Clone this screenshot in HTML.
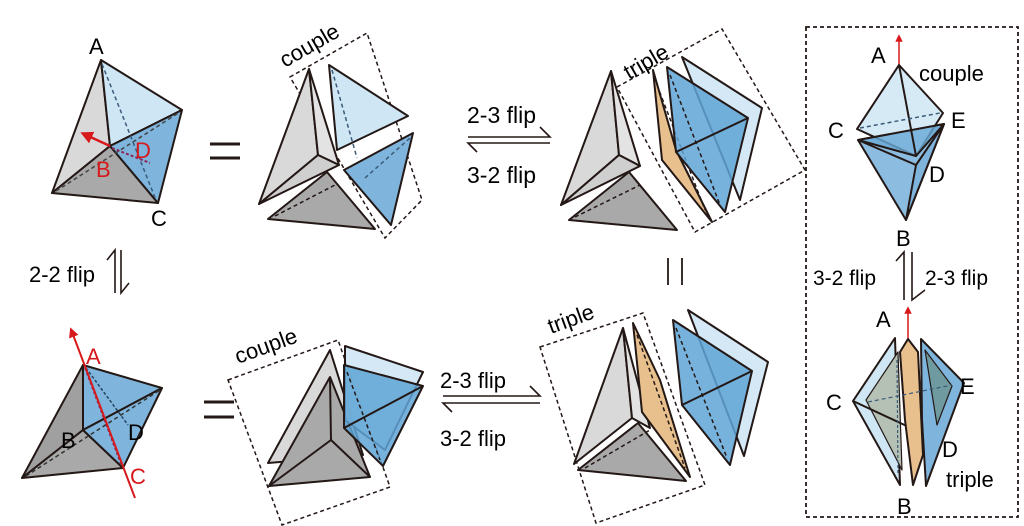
<!DOCTYPE html>
<html><head><meta charset="utf-8"><style>
html,body{margin:0;padding:0;background:#fff;}
svg{display:block;}
text{font-family:"Liberation Sans",sans-serif;}
</style></head><body>
<svg width="1024" height="526" viewBox="0 0 1024 526" xmlns="http://www.w3.org/2000/svg">
<defs>
<marker id="ar" viewBox="0 0 10 10" refX="5" refY="5" markerWidth="5" markerHeight="5" orient="auto-start-reverse"><path d="M0,0 L10,5 L0,10 z" fill="#d7191c"/></marker>
</defs>
<g stroke="#231815" stroke-width="2" stroke-linejoin="round">
<polygon points="101,60 52,193 110,146" fill="#d9d9d9"/>
<polygon points="52,193 110,146 158,203" fill="#a9a9a9"/>
<polygon points="101,60 182,110 110,146" fill="#cfe6f5"/>
<polygon points="110,146 182,110 158,203" fill="#7fb5dc"/>
<line x1="102" y1="64" x2="156" y2="200" stroke-dasharray="4,3" stroke-width="1.5" stroke="#3a5a78"/>
<line x1="56" y1="191" x2="180" y2="112" stroke-dasharray="4,3" stroke-width="1.5" stroke="#444"/>
<line x1="112" y1="148" x2="150" y2="163" stroke-dasharray="3,2" stroke-width="2" stroke="#8b2a5a"/>
</g>
<line x1="110" y1="146" x2="86" y2="135" stroke="#d7191c" stroke-width="2.5" marker-end="url(#ar)"/>
<text x="89" y="54" font-size="22">A</text>
<text x="151" y="226" font-size="22">C</text>
<text x="96" y="177" font-size="22" fill="#d7191c">B</text>
<text x="135" y="158" font-size="22" fill="#d7191c">D</text>
<line x1="210" y1="144" x2="240" y2="144" stroke="#231815" stroke-width="3"/>
<line x1="210" y1="158" x2="240" y2="158" stroke="#231815" stroke-width="3"/>

<polygon points="290,77 367,33 422,200 385,238" fill="none" stroke="#231815" stroke-width="1.5" stroke-dasharray="4,3"/>
<text x="0" y="0" font-size="22" transform="translate(285,68) rotate(-30)">couple</text>
<g stroke="#231815" stroke-width="2" stroke-linejoin="round">
<polygon points="309,69 259,204 318,155" fill="#d9d9d9"/>
<polygon points="309,69 318,155 339,165" fill="#e3e3e3"/>
<polygon points="259,204 318,155 339,165" fill="#cfcfcf"/>
<polygon points="327,172 268,219 375,229" fill="#a9a9a9"/>
<line x1="275" y1="216" x2="335" y2="185" stroke-dasharray="4,3" stroke-width="1.5"/>
<polygon points="329,65 408,116 337,150" fill="#cfe6f5"/>
<line x1="332" y1="70" x2="357" y2="158" stroke-dasharray="4,3" stroke-width="1.5" stroke="#3a5a78"/>
<polygon points="344,170 413,133 391,225" fill="#7fb5dc"/>
<line x1="365" y1="178" x2="410" y2="138" stroke-dasharray="4,3" stroke-width="1.5" stroke="#3a5a78"/>
</g>

<text x="467" y="123" font-size="23">2-3 flip</text>
<text x="467" y="183" font-size="23">3-2 flip</text>
<g stroke="#231815" stroke-width="1.6" fill="none">
<path d="M468,137 H550 L540,127"/>
<path d="M550,143 H468 L477,152"/>
</g>

<polygon points="617,87 722,29 805,170 695,232" fill="none" stroke="#231815" stroke-width="1.5" stroke-dasharray="4,3"/>
<text x="0" y="0" font-size="22" transform="translate(629,80) rotate(-30)">triple</text>
<g stroke="#231815" stroke-width="2" stroke-linejoin="round">
<polygon points="611,71 561,205 619,155" fill="#d9d9d9"/>
<polygon points="611,71 619,155 640,166" fill="#e3e3e3"/>
<polygon points="561,205 619,155 640,166" fill="#cfcfcf"/>
<polygon points="629,172 569,220 677,230" fill="#a9a9a9"/>
<line x1="575" y1="217" x2="640" y2="185" stroke-dasharray="4,3" stroke-width="1.5"/>
<polygon points="653,70 662,160 712,222 676,150" fill="#e8c08e"/>
<line x1="657" y1="85" x2="705" y2="210" stroke-dasharray="4,3" stroke-width="1.5"/>
<polygon points="682,57 762,108 740,200" fill="#cfe6f5" fill-opacity="0.9"/>
<polygon points="667,67 748,118 725,212 676,152" fill="#5fa4d6" fill-opacity="0.85"/>
<line x1="676" y1="152" x2="748" y2="118"/>
<line x1="670" y1="75" x2="720" y2="205" stroke-dasharray="4,3" stroke-width="1.5"/>
</g>

<line x1="668" y1="258" x2="668" y2="285" stroke="#231815" stroke-width="1.8"/>
<line x1="682" y1="258" x2="682" y2="285" stroke="#231815" stroke-width="1.8"/>

<text x="29" y="282" font-size="22">2-2 flip</text>
<g stroke="#231815" stroke-width="1.6" fill="none">
<path d="M107,260 L115,250 V293"/>
<path d="M121,250 V293 L129,283"/>
</g>

<g stroke="#231815" stroke-width="2" stroke-linejoin="round">
<polygon points="83,365 22,478 83,430" fill="#a0a0a0"/>
<polygon points="22,478 83,430 123,468" fill="#a9a9a9"/>
<polygon points="83,365 162,388 83,430" fill="#7fb5dc"/>
<polygon points="83,430 162,388 123,468" fill="#7fb5dc"/>
<line x1="85" y1="368" x2="121" y2="464" stroke-dasharray="3,2" stroke="#8b2a5a" stroke-width="1.8"/>
<line x1="86" y1="368" x2="128" y2="425" stroke-dasharray="3,2" stroke="#23435f" stroke-width="1.5"/>
<line x1="26" y1="476" x2="160" y2="390" stroke-dasharray="4,3" stroke-width="1.5" stroke="#333"/>
</g>
<line x1="135" y1="498" x2="72" y2="332" stroke="#d7191c" stroke-width="2" marker-end="url(#ar)"/>
<text x="86" y="364" font-size="22" fill="#d7191c">A</text>
<text x="130" y="484" font-size="22" fill="#d7191c">C</text>
<text x="61" y="448" font-size="22">B</text>
<text x="128" y="440" font-size="22">D</text>
<line x1="204" y1="402" x2="234" y2="402" stroke="#231815" stroke-width="3"/>
<line x1="204" y1="417" x2="234" y2="417" stroke="#231815" stroke-width="3"/>

<polygon points="228,380 338,340 390,487 282,525" fill="none" stroke="#231815" stroke-width="1.5" stroke-dasharray="4,3"/>
<text x="0" y="0" font-size="22" transform="translate(238,364) rotate(-20)">couple</text>
<g stroke="#231815" stroke-width="2" stroke-linejoin="round">
<polygon points="330,350 268,463 363,455" fill="#d9d9d9"/>
<polygon points="330,377 269,486 370,477" fill="#a9a9a9"/>
<line x1="330" y1="377" x2="331" y2="440"/>
<line x1="269" y1="486" x2="331" y2="440"/>
<line x1="370" y1="477" x2="331" y2="440"/>
<polygon points="345,346 423,372 385,450 345,420" fill="#cfe6f5" fill-opacity="0.9"/>
<polygon points="344,365 423,386 383,466 344,428" fill="#5fa4d6" fill-opacity="0.85"/>
<line x1="344" y1="428" x2="423" y2="386"/>
<line x1="347" y1="372" x2="380" y2="460" stroke-dasharray="4,3" stroke-width="1.5"/>
</g>

<text x="440" y="388" font-size="22">2-3 flip</text>
<text x="440" y="446" font-size="22">3-2 flip</text>
<g stroke="#231815" stroke-width="1.6" fill="none">
<path d="M443,396 H540 L530,386"/>
<path d="M540,403 H443 L452,412"/>
</g>

<polygon points="540,347 643,313 705,485 596,523" fill="none" stroke="#231815" stroke-width="1.5" stroke-dasharray="4,3"/>
<text x="0" y="0" font-size="22" transform="translate(551,334) rotate(-20)">triple</text>
<g stroke="#231815" stroke-width="2" stroke-linejoin="round">
<polygon points="623,328 574,464 632,418" fill="#d9d9d9"/>
<polygon points="623,328 632,418 650,428" fill="#e3e3e3"/>
<polygon points="638,423 578,470 686,481" fill="#a9a9a9"/>
<line x1="585" y1="468" x2="650" y2="430" stroke-dasharray="4,3" stroke-width="1.5"/>
<polygon points="633,323 642,412 690,477 660,380" fill="#e8c08e"/>
<line x1="637" y1="335" x2="685" y2="468" stroke-dasharray="4,3" stroke-width="1.5"/>
<polygon points="688,310 768,362 744,456" fill="#cfe6f5" fill-opacity="0.9"/>
<polygon points="673,320 752,371 730,465 682,405" fill="#5fa4d6" fill-opacity="0.85"/>
<line x1="682" y1="405" x2="752" y2="371"/>
<line x1="676" y1="328" x2="727" y2="458" stroke-dasharray="4,3" stroke-width="1.5"/>
</g>

<rect x="806" y="27" width="212" height="490" fill="none" stroke="#231815" stroke-width="1.8" stroke-dasharray="4,3"/>
<line x1="899" y1="65" x2="899" y2="38" stroke="#d7191c" stroke-width="1.5" marker-end="url(#ar)"/>
<g stroke="#231815" stroke-width="2" stroke-linejoin="round">
<polygon points="858,140 944,124 906,220" fill="#8cbde0"/>
<polygon points="916,165 944,124 906,220" fill="#7fb5dc"/>
<line x1="858" y1="140" x2="916" y2="165"/>
<polygon points="899,65 857,129 916,156 943,113" fill="#cfe6f5" fill-opacity="0.85"/>
<polygon points="858,140 944,124 916,156" fill="#6aaad6" fill-opacity="0.8"/>
<line x1="899" y1="65" x2="916" y2="156"/>
<line x1="860" y1="128" x2="940" y2="113" stroke-dasharray="4,3" stroke-width="1.5" stroke="#3a5a78"/>
</g>
<text x="871" y="63" font-size="22">A</text>
<text x="919" y="81" font-size="22">couple</text>
<text x="828" y="138" font-size="22">C</text>
<text x="951" y="128" font-size="22">E</text>
<text x="929" y="182" font-size="22">D</text>
<text x="896" y="246" font-size="22">B</text>
<text x="813" y="285" font-size="21">3-2 flip</text>
<text x="925" y="285" font-size="21">2-3 flip</text>
<g stroke="#231815" stroke-width="1.6" fill="none">
<path d="M896,261 L904,252 V300"/>
<path d="M912,252 V300 L925,290"/>
</g>
<line x1="908" y1="339" x2="908" y2="310" stroke="#d7191c" stroke-width="1.5" marker-end="url(#ar)"/>
<g stroke="#231815" stroke-width="2" stroke-linejoin="round">
<polygon points="895,338 853,401 900,485 897,400" fill="#cfe6f5"/>
<polygon points="898,352 866,400 902,470" fill="#b5c1b5" stroke-width="1.2"/>
<line x1="853" y1="401" x2="911" y2="428"/>
<polygon points="908,339 900,352 905,420 913,485 923,455 918,352" fill="#e8c08e"/>
<polygon points="921,339 964,383 926,486 922,420" fill="#7fb5dc"/>
<polygon points="925,350 952,386 937,425" fill="#6f9a9f" stroke-width="1.2"/>
<line x1="868" y1="402" x2="952" y2="385" stroke-dasharray="4,3" stroke-width="1.2" stroke="#3a5a78"/>
<line x1="897" y1="360" x2="898" y2="475" stroke-dasharray="3,2" stroke-width="1.2" stroke="#3a5a78"/>
</g>
<text x="876" y="327" font-size="22">A</text>
<text x="826" y="410" font-size="22">C</text>
<text x="960" y="394" font-size="22">E</text>
<text x="942" y="457" font-size="22">D</text>
<text x="946" y="487" font-size="22">triple</text>
<text x="897" y="514" font-size="22">B</text>
</svg>
</body></html>
